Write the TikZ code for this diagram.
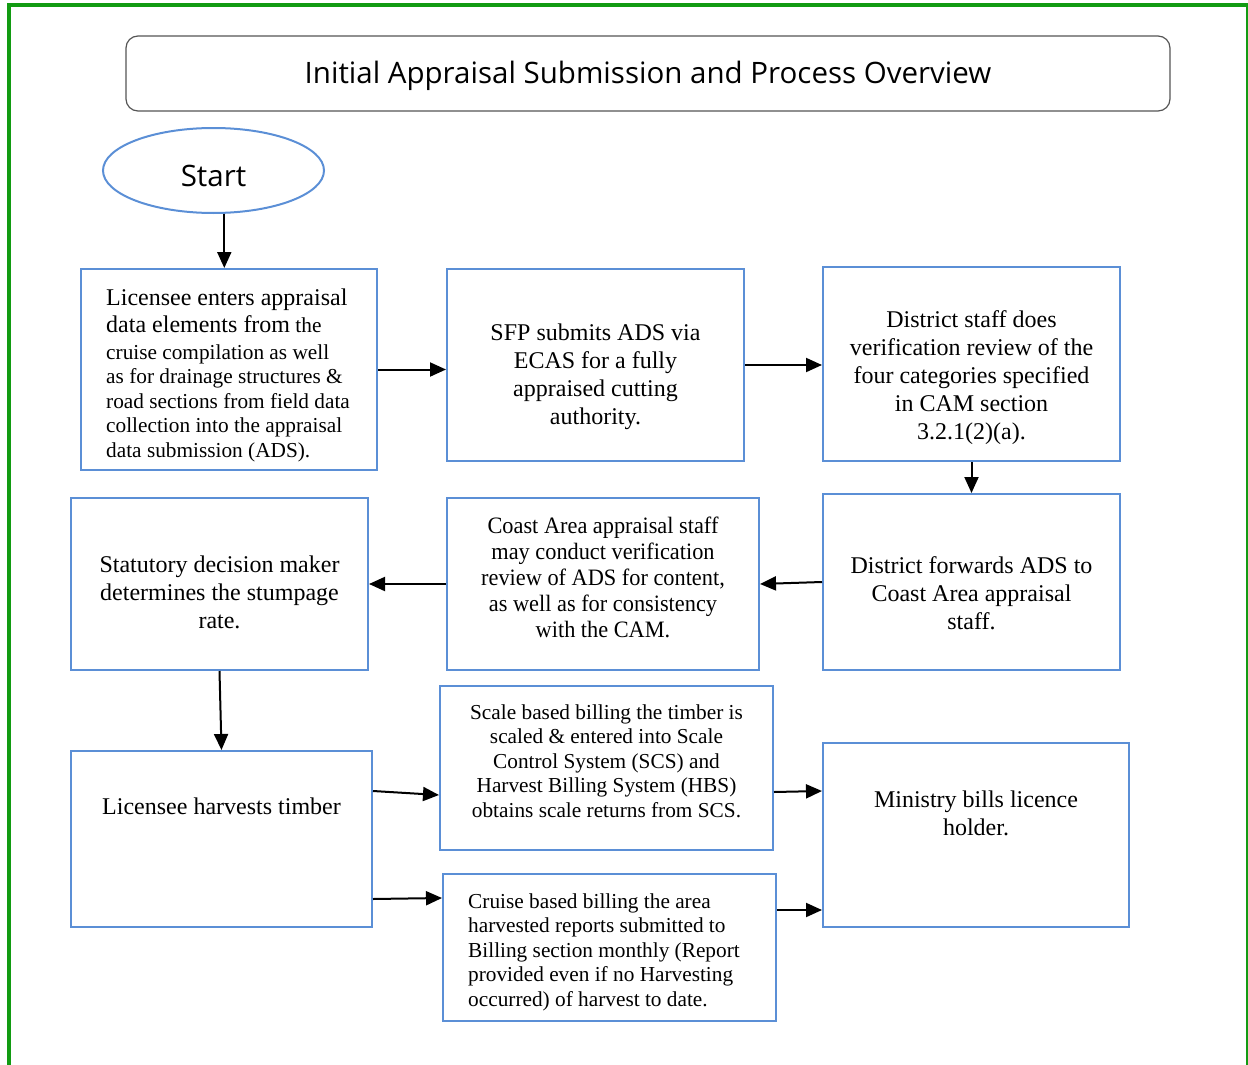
\documentclass[tikz,border=0pt]{standalone}
\usepackage{fontspec}
\setmainfont{Liberation Serif}
\newfontfamily\headfont{Open Sans}
\newfontfamily\narrowserif[FakeStretch=0.95]{Liberation Serif}
\usetikzlibrary{arrows.meta,calc,shapes.geometric}

\definecolor{frameGreen}{RGB}{18,155,18}
\definecolor{boxBlue}{RGB}{91,143,214}
\definecolor{titleGray}{RGB}{85,85,85}

\tikzset{
  procbox/.style={draw=boxBlue, line width=2pt, rectangle, inner sep=0pt},
  txt/.style={inner sep=0pt, font=\fontsize{24}{28}\selectfont, align=center},
  smalltxt/.style={inner sep=0pt, font=\fontsize{21.3}{24.5}\selectfont},
  arr/.style={line width=2pt, -{Triangle[length=16pt,width=14pt]}},
}

\begin{document}
\begin{tikzpicture}[x=1pt,y=-1pt]
  \useasboundingbox (0,0) rectangle (1248,1065);

  % outer green frame (open at the bottom)
  \draw[frameGreen, line width=4pt] (9,1080) -- (9,5) -- (1247.5,5) -- (1247.5,1080);

  % heading
  \node[draw=titleGray, line width=1.2pt, rounded corners=12pt,
        minimum width=1044pt, minimum height=75pt, inner sep=0pt] (title) at (648,73.5) {};
  \node[inner sep=0pt, font=\headfont\fontsize{29.5}{34}\selectfont] (titletext) at (648,76)
    {Initial Appraisal Submission and Process Overview};

  % start terminal
  \node[ellipse, draw=boxBlue, line width=2pt, minimum width=221pt, minimum height=85pt,
        inner sep=0pt] (start) at (213.5,170.5) {};
  \node[inner sep=0pt, font=\headfont\fontsize{29.5}{34}\selectfont] (starttext) at (213.5,176) {Start};

  % process boxes
  \node[procbox, minimum width=296pt, minimum height=201pt] (b1) at (229,369.5) {};
  \node[procbox, minimum width=297pt, minimum height=192pt] (b2) at (595.5,365) {};
  \node[procbox, minimum width=297pt, minimum height=194pt] (b3) at (971.5,364) {};
  \node[procbox, minimum width=297pt, minimum height=176pt] (b4) at (971.5,582) {};
  \node[procbox, minimum width=312pt, minimum height=172pt] (b5) at (603,584) {};
  \node[procbox, minimum width=297pt, minimum height=172pt] (b6) at (219.5,584) {};
  \node[procbox, minimum width=301pt, minimum height=176pt] (b7) at (221.5,839) {};
  \node[procbox, minimum width=333pt, minimum height=164pt] (b8) at (606.5,768) {};
  \node[procbox, minimum width=333pt, minimum height=147pt] (b9) at (609.5,947.5) {};
  \node[procbox, minimum width=306pt, minimum height=184pt] (b10) at (976,835) {};

  % box texts
  \node[smalltxt, align=left, anchor=west] (t1) at (106,375)
    {{\fontsize{24}{28}\selectfont Licensee enters appraisal}\\[2.5pt]
     {\fontsize{24}{28}\selectfont data elements from} the\\[2.5pt]
     cruise compilation as well\\
     as for drainage structures \&\\
     road sections from field data\\
     collection into the appraisal\\
     data submission (ADS).};
  \node[txt] (t2) at (595.5,377)
    {SFP submits ADS via\\ ECAS for a fully\\ appraised cutting\\ authority.};
  \node[txt] (t3) at (971.5,378)
    {District staff does\\ verification review of the\\ four categories specified\\ in CAM section\\ 3.2.1(2)(a).};
  \node[txt] (t4) at (971.5,593)
    {District forwards ADS to\\ Coast Area appraisal\\ staff.};
  \node[txt, font=\narrowserif\fontsize{23.5}{26}\selectfont] (t5) at (603,577)
    {Coast Area appraisal staff\\ may conduct verification\\ review of ADS for content,\\ as well as for consistency\\ with the CAM.};
  \node[txt] (t6) at (219.5,592)
    {Statutory decision maker\\ determines the stumpage\\ rate.};
  \node[txt] (t7) at (221.5,806) {Licensee harvests timber};
  \node[smalltxt, align=center] (t8) at (606.5,761)
    {Scale based billing the timber is\\ scaled \& entered into Scale\\ Control System (SCS) and\\ Harvest Billing System (HBS)\\ obtains scale returns from SCS.};
  \node[smalltxt, align=left, anchor=west] (t9) at (468,952)
    {Cruise based billing the area\\ harvested reports submitted to\\ Billing section monthly (Report\\ provided even if no Harvesting\\ occurred) of harvest to date.};
  \node[txt] (t10) at (976,813) {Ministry bills licence\\ holder.};

  % connectors
  \draw[arr] (start.-76) -- (start.-76 |- b1.north);
  \draw[arr] (b1.east) -- (b2.west |- b1.east);
  \draw[arr] (b2.east) -- (b3.west |- b2.east);
  \draw[arr] (b3.south) -- (b4.north);
  \draw[arr] (b4.west) -- (b5.east);
  \draw[arr] (b5.west) -- (b6.east);
  \draw[arr] (b6.south) -- (b7.north);
  \draw[arr] ($(b7.north east)+(0,41)$) -- ($(b8.west)+(0,27)$);
  \draw[arr] ($(b7.south east)+(0,-29)$) -- ($(b9.west)+(0,-49.5)$);
  \draw[arr] ($(b8.east)+(0,24)$) -- ($(b10.west)+(0,-44)$);
  \draw[arr] ($(b9.east)+(0,-37.5)$) -- ($(b10.west)+(0,75)$);
\end{tikzpicture}
\end{document}
